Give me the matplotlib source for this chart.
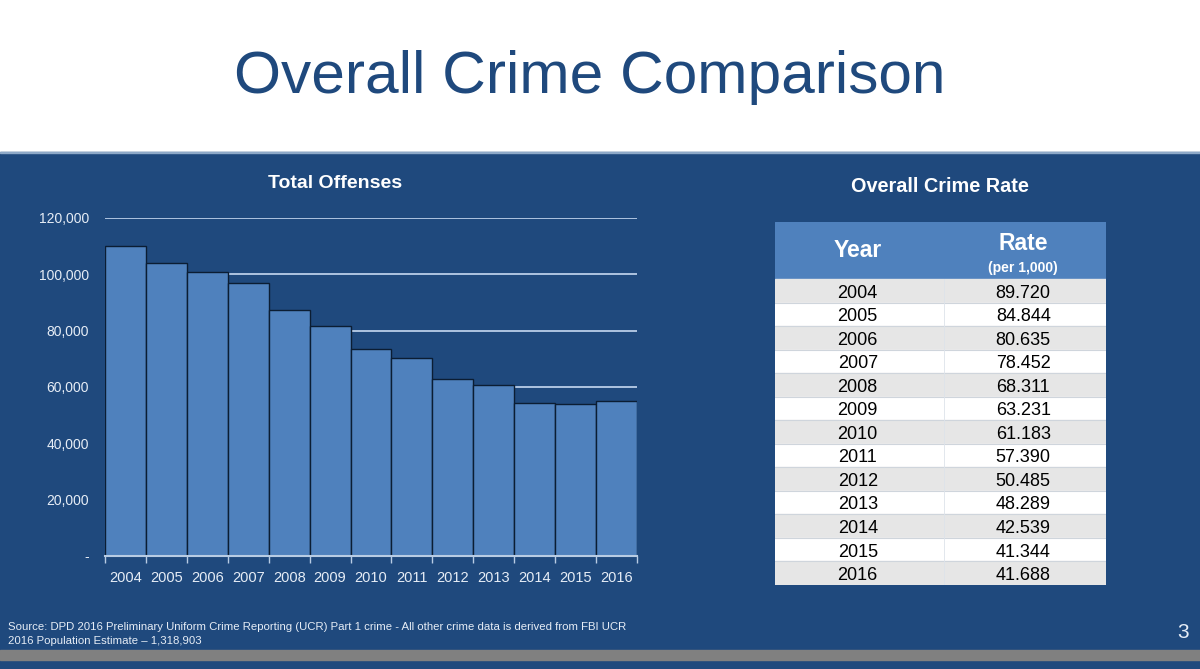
import matplotlib.pyplot as plt
from matplotlib.patches import Rectangle
from matplotlib.ticker import FuncFormatter
import numpy as np

# Data
years = ['2004', '2005', '2006', '2007', '2008', '2009', '2010',
         '2011', '2012', '2013', '2014', '2015', '2016']
offenses = [110000, 104200, 100700, 97100, 87200, 81700, 73400,
            70300, 63000, 60800, 54200, 54000, 55100]
rates = ['89.720', '84.844', '80.635', '78.452', '68.311', '63.231', '61.183',
         '57.390', '50.485', '48.289', '42.539', '41.344', '41.688']
yticks = [0, 20000, 40000, 60000, 80000, 100000, 120000]

W, H = 1200, 669
NAVY = '#1f497d'
BAR = '#4f81bd'
LIGHT = '#e6edf6'

plt.rcParams['font.family'] = ['Liberation Sans', 'DejaVu Sans']

fig = plt.figure(figsize=(W / 100, H / 100), dpi=100)
fig.patch.set_facecolor('white')


def px_rect(x0, y0, x1, y1):
  '''pixel box (top-left origin) -> figure fraction rect'''
  return [x0 / W, 1 - y1 / H, (x1 - x0) / W, (y1 - y0) / H]


def fig_y(y):
  return 1 - y / H


# Slide background pieces
fig.add_artist(Rectangle((0, fig_y(669)), 1, (669 - 152) / H,
                         transform=fig.transFigure, color=NAVY, zorder=0))
fig.add_artist(Rectangle((0, fig_y(153)), 1, 1.5 / H,
                         transform=fig.transFigure, color='#8ea9c8', zorder=1))
fig.add_artist(Rectangle((0, fig_y(660)), 1, 10 / H,
                         transform=fig.transFigure, color='#808080', zorder=1))

fig.text(590 / W, fig_y(93), 'Overall Crime Comparison', color=NAVY,
         fontsize=43.5, ha='center', va='baseline')

# Bar chart
ax = fig.add_axes(px_rect(105, 218, 637, 556))
ax.set_facecolor('none')
x = np.arange(len(years))
ax.bar(x, offenses, width=1.0, color=BAR, edgecolor='#0b1d33', linewidth=1.0,
       zorder=3)
ax.set_xlim(-0.5, len(years) - 0.5)
ax.set_ylim(0, 120000)
ax.set_yticks(yticks)
ax.yaxis.set_major_formatter(FuncFormatter(
  lambda v, _: '-' if v == 0 else '{:,.0f}'.format(v)))
ax.set_xticks(x)
ax.set_xticklabels(years)
ax.set_xticks(np.arange(len(years) + 1) - 0.5, minor=True)
ax.tick_params(axis='x', which='major', length=0, pad=11, labelsize=10.5,
               labelcolor=LIGHT)
ax.tick_params(axis='x', which='minor', length=5, width=1, color='#b8cce4',
               direction='out')
ax.tick_params(axis='y', length=0, pad=11.5, labelsize=10, labelcolor=LIGHT)
ax.grid(axis='y', color='#c6d9f1', linewidth=1.2, zorder=1)
ax.set_axisbelow(True)
for side in ['top', 'left', 'right']:
  ax.spines[side].set_visible(False)
ax.spines['bottom'].set_color('#b8cce4')
ax.spines['bottom'].set_linewidth(1.5)
ax.spines['bottom'].set_zorder(4)

fig.text(335 / W, fig_y(184), 'Total Offenses', color='white',
         fontsize=14, fontweight='bold', ha='center', va='center')

# Rate table
fig.text(940 / W, fig_y(187), 'Overall Crime Rate', color='white',
         fontsize=14.3, fontweight='bold', ha='center', va='center')

n = len(years)
head = 57 / ((585 - 279) / n)
tax = fig.add_axes(px_rect(775, 222, 1106, 585))
tax.set_xlim(0, 2)
tax.set_ylim(n, -head)
tax.axis('off')
tax.add_patch(Rectangle((0, -head), 2, head, color=BAR, zorder=1))
tax.text(0.5, -head / 2, 'Year', color='white', fontsize=16.5,
         fontweight='bold', ha='center', va='center')
tax.text(1.5, -head * 0.62, 'Rate', color='white', fontsize=16.5,
         fontweight='bold', ha='center', va='center')
tax.text(1.5, -head * 0.2, '(per 1,000)', color='white', fontsize=10,
         fontweight='bold', ha='center', va='center')
for i, (yr, rt) in enumerate(zip(years, rates)):
  shade = '#e6e6e6' if i % 2 == 0 else 'white'
  tax.add_patch(Rectangle((0, i), 2, 1, color=shade, zorder=1))
  if i > 0:
    tax.plot([0, 2], [i, i], color='#cfd5dc', linewidth=0.8, zorder=2)
  tax.text(0.5, i + 0.6, yr, color='black', fontsize=13,
           ha='center', va='center', zorder=3)
  tax.text(1.5, i + 0.6, rt, color='black', fontsize=13,
           ha='center', va='center', zorder=3)
tax.plot([1.02, 1.02], [0, n], color='#dde3ea', linewidth=0.6, zorder=2)

# Footer
fig.text(8 / W, fig_y(627),
         'Source: DPD 2016 Preliminary Uniform Crime Reporting (UCR) Part 1 crime'
         ' - All other crime data is derived from FBI UCR',
         color=LIGHT, fontsize=8.2, ha='left', va='center')
fig.text(8 / W, fig_y(641), '2016 Population Estimate \u2013 1,318,903',
         color=LIGHT, fontsize=8.2, ha='left', va='center')
fig.text(1183 / W, fig_y(632), '3', color=LIGHT, fontsize=15,
         ha='center', va='center')

fig.savefig('out.png', dpi=100, facecolor=fig.get_facecolor())
